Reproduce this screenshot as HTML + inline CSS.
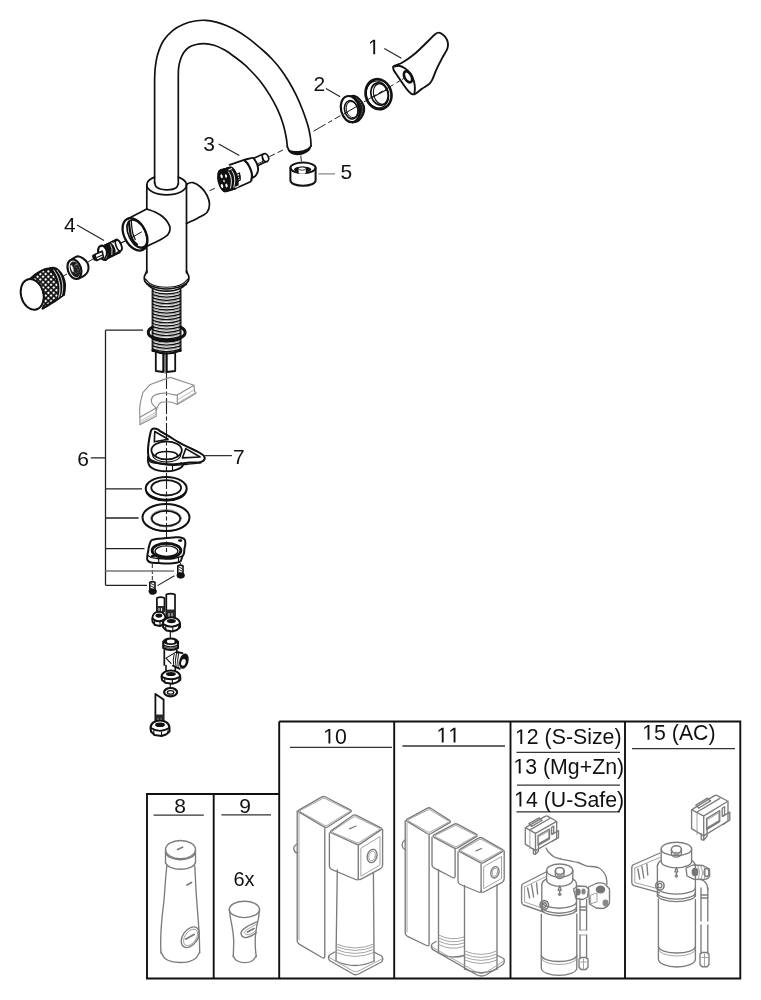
<!DOCTYPE html>
<html><head><meta charset="utf-8"><title>Parts</title>
<style>
html,body{margin:0;padding:0;background:#fff;width:761px;height:1000px;overflow:hidden}
svg{display:block;position:absolute;left:0;top:0;will-change:transform}
text{font-family:"Liberation Sans",sans-serif;fill:#111}
.k{fill:none;stroke:#111;stroke-width:1.7;stroke-linejoin:round;stroke-linecap:round}
.t{fill:none;stroke:#111;stroke-width:1.1;stroke-linejoin:round;stroke-linecap:round}
.l{fill:none;stroke:#222;stroke-width:1.1}
.d{fill:none;stroke:#222;stroke-width:1;stroke-dasharray:6 3}
.g{fill:none;stroke:#7c7c7c;stroke-width:1.35;stroke-linejoin:round;stroke-linecap:round}
.c{fill:none;stroke:#8f8f8f;stroke-width:1.15;stroke-linejoin:round;stroke-linecap:round}
.ct{fill:none;stroke:#aaa;stroke-width:0.8;stroke-linejoin:round;stroke-linecap:round}
.gt{fill:none;stroke:#9a9a9a;stroke-width:0.9;stroke-linejoin:round;stroke-linecap:round}
.b{fill:none;stroke:#111;stroke-width:1.9}
.u{fill:none;stroke:#333;stroke-width:1.3}
.f{fill:#111;stroke:none}
.w{fill:#fff}
</style></head><body>
<svg width="761" height="1000" viewBox="0 0 761 1000">
<g id="table">
<path class="b" d="M279.2,721.5 H740.3 V978.5 H147 V794 H279.2"/>
<path class="b" d="M279.2,721.5 V978.5 M213.7,794 V978.5 M394.2,721.5 V978.5 M510.5,721.5 V978.5 M625,721.5 V978.5"/>
<path class="u" d="M290,747.3 H392 M402.4,746 H505 M516.5,752.3 H620 M517,785.1 H620 M516.5,811.8 H620 M632,748.6 H735 M153.6,815.2 H203.8 M221.4,814.8 H271"/>
<g font-size="21">
<text x="334.95" y="743.6" font-size="21.3">0</text>
<text x="526.85" y="744.1" font-size="21.3">2 (S-Size)</text>
<text x="525.25" y="773.6" font-size="21.3">3 (Mg+Zn)</text>
<text x="525.95" y="806.5" font-size="21.3">4 (U-Safe)</text>
<text x="654.05" y="739.7" font-size="21.3">5 (AC)</text>
<text x="180" y="813" text-anchor="middle">8</text>
<text x="245" y="813" text-anchor="middle">9</text>
<text x="244" y="885.8" text-anchor="middle" font-size="20">6x</text>
</g>
</g>
<path d="M328.46,743.60 L328.46,730.73 L325.15,733.10 L325.15,731.33 L328.61,728.95 L330.34,728.95 L330.34,743.60Z" fill="#111"/><path d="M441.76,742.50 L441.76,729.63 L438.45,732.00 L438.45,730.23 L441.91,727.85 L443.64,727.85 L443.64,742.50Z" fill="#111"/><path d="M453.60,742.50 L453.60,729.63 L450.29,732.00 L450.29,730.23 L453.76,727.85 L455.48,727.85 L455.48,742.50Z" fill="#111"/><path d="M520.36,744.10 L520.36,731.23 L517.05,733.60 L517.05,731.83 L520.51,729.45 L522.24,729.45 L522.24,744.10Z" fill="#111"/><path d="M518.76,773.60 L518.76,760.73 L515.45,763.10 L515.45,761.33 L518.91,758.95 L520.64,758.95 L520.64,773.60Z" fill="#111"/><path d="M519.46,806.50 L519.46,793.63 L516.15,796.00 L516.15,794.23 L519.61,791.85 L521.34,791.85 L521.34,806.50Z" fill="#111"/><path d="M647.56,739.70 L647.56,726.83 L644.25,729.20 L644.25,727.43 L647.71,725.05 L649.44,725.05 L649.44,739.70Z" fill="#111"/><path d="M373.28,54.30 L373.28,41.62 L370.02,43.94 L370.02,42.20 L373.43,39.85 L375.14,39.85 L375.14,54.30Z" fill="#111"/>
<g font-size="21">
<text x="313.5" y="90.8">2</text>
<text x="203.3" y="151.3">3</text>
<text x="64" y="231.5">4</text>
<text x="340.5" y="178.8">5</text>
<text x="77.3" y="465.7">6</text>
<text x="233" y="464">7</text>
</g>
<path class="l" d="M384.3,48.6 L401.4,58.3 M326,88.5 L340.2,96.7 M218.7,144 L239.3,155.4 M77,225 L104,240.4"/>
<path class="l" d="M318.4,173.9 H335" style="stroke:#777"/>
<path class="k" d="M154.6,183 L154.6,80 C154.8,76 154.7,72.1 155.2,68 C155.7,63.7 156.2,59.4 157.5,55 C158.9,50.3 160.8,44.9 163.4,40.8 C165.9,36.9 169.2,33.4 172.6,30.6 C175.9,27.9 179.8,25.8 183.6,24.2 C187.3,22.6 191.2,21.6 195,21 C198.6,20.4 202.2,20.1 205.8,20.3 C209.3,20.5 212.8,21.2 216.3,22.1 C219.8,23 223.3,24.3 226.8,25.8 C230.3,27.3 233.9,29 237.3,31 C240.9,33 244.4,35.4 247.8,37.9 C251.4,40.5 255.3,43.8 258.3,46.3 C260.6,48.2 262.2,49.6 264.3,51.5 C266.7,53.7 269.4,56.2 272,59 C274.9,62.1 278.1,65.8 280.8,69.5 C283.6,73.2 286,76.9 288.5,81 C291.2,85.4 293.8,90.2 296.2,95.1 C298.6,100.1 300.8,105.2 302.8,110.5 C304.8,115.9 307,122 308.3,127 C309.4,131 310,134.6 310.5,138 C310.9,140.9 310.9,143.3 311.1,146"/>
<path class="k" d="M178.3,184 L178.3,75 C178.4,72.7 178.3,70.3 178.6,68 C178.9,65.7 179.3,63.4 180,61 C180.8,58.3 182,55.1 183.6,52.7 C185.1,50.5 186.9,48.6 189,47.2 C191.1,45.8 193.8,45.1 196.3,44.5 C198.7,43.9 201,43.6 203.7,43.6 C206.9,43.6 210.8,44.2 214.2,45.2 C217.8,46.3 221.3,48.1 224.7,50 C228.3,52 231.7,54.7 235.2,57.3 C238.7,59.9 243,63.3 245.7,65.7 C247.5,67.3 248.4,68.4 250,70 C251.9,71.9 254.3,74.4 256.2,76.5 C257.9,78.4 259.2,79.9 261,82.2 C263.6,85.6 267.1,90.6 269.8,95.1 C272.6,99.7 275.3,104.6 277.5,109.4 C279.7,114.1 281.5,118.9 283,123.7 C284.4,128.4 285.6,133.8 286.3,138 C286.9,141.3 287,144 287.4,147"/>
<path class="k" d="M287.4,147 C288.1,148.2 288.3,149.9 289.6,150.7 C291.4,151.9 295.5,152 298.4,151.8 C301.4,151.6 305,150.8 307.2,149.6 C308.9,148.7 309.8,147.2 311.1,146"/>
<path class="f" d="M287.6,148.5 C287.8,148.4 288.5,150.3 289.6,150.9 C291.4,151.9 295.5,152.2 298.4,152 C301.4,151.8 305,151 307.2,149.8 C308.9,148.9 310.8,146.3 311.1,146.5 C311.4,146.7 310.5,149.4 309.4,150.6 C307.9,152.3 304.4,154.1 301.7,154.8 C299.2,155.4 296.3,155.4 294,154.8 C291.9,154.2 289.5,152.8 288.5,151.5 C287.8,150.6 287.4,148.6 287.6,148.5Z"/>
<path class="k" d="M154.6,182.7 C155.2,184.1 155.1,185.8 156.3,186.9 C158.1,188.6 162.9,189.7 166.3,189.8 C169.6,189.9 174.5,189 176.4,187.5 C177.6,186.6 177.7,185.1 178.3,183.9"/>
<path class="k" d="M146.8,185 A19.8,9.8 0 0 0 186.5,185"/>
<path class="k" d="M146.8,185 A19.8,9.8 0 0 1 154.6,177.1 M178.3,177.1 A19.8,9.8 0 0 1 186.5,185"/>
<path class="k" d="M146.8,185 V209 M146.8,246.5 V273 M186.5,185 V273"/>
<path class="k" d="M186.5,184.5 C187.3,184 188,183.3 189,183 C190.1,182.6 191.5,182.3 193,182.6 C195.3,183.1 198.9,185.4 201.2,187.5 C203.6,189.7 205.7,192.7 207.1,195.5 C208.4,198.2 209.5,201.2 209.5,204 C209.5,206.7 208.9,209.8 207.3,212 C205.4,214.6 201.3,216.1 198,218 C194.4,220 190.3,221.7 186.5,223.5"/>
<path class="k" d="M146.8,209 C149.5,210 152.4,210.8 155,212 C157.6,213.3 160.3,214.7 162.5,216.5 C164.6,218.2 166.5,220.4 167.8,222.5 C169,224.4 170.1,226.6 170.1,228.6 C170.1,230.6 169.3,232.8 168,234.5 C166.3,236.7 162.7,238.4 160,240 C157.4,241.5 154.4,242.6 152,243.8 C150.1,244.8 148.5,245.5 146.8,246.5 C145.1,247.4 143.6,248.5 142,249.5"/>
<path class="k" d="M146.8,209 L126.4,219.5"/>
<ellipse class="k" cx="135" cy="234.4" rx="10.8" ry="17.3" transform="rotate(-27 135 234.4)" style="stroke-width:2.3"/>
<ellipse class="k" cx="137" cy="233.6" rx="8.4" ry="14.8" transform="rotate(-27 137 233.6)" style="stroke-width:1.7"/>
<path class="k" d="M128.8,221.5 C129.1,223.7 129.3,225.8 129.6,228 C129.9,230.3 130.2,232.8 130.8,235 C131.4,237 132.1,238.9 133.2,240.5 C134.2,242 135.7,243.2 137,244.5" style="stroke-width:2.2"/>
<path class="k" d="M131.2,220.5 C131.4,222.7 131.5,224.8 131.8,227 C132.1,229.3 132.4,231.8 133,234 C133.6,236 134.5,237.7 135.2,239.5" style="stroke-width:1.3"/>
<path class="k" d="M130.5,239.5 C132,241.5 133.3,244.1 135,245.5 C136.5,246.7 138.2,247.7 140,248 C141.7,248.3 143.7,247.7 145.5,247.5" style="stroke-width:1.3"/>
<path class="t" d="M121,243 L126,240.5 M130,238.5 L141.5,232" style="stroke-width:1"/>
<path class="k" d="M146.8,271 C146.4,271.8 146,272.6 145.6,273.5 C145.2,274.6 144.4,275.7 144.3,277 C144.2,278.4 144.2,280.2 145,281.5 C145.9,283.1 148,284.4 150,285.5 C152.3,286.7 155.3,287.4 158,288 C160.8,288.6 163.7,289 166.5,289 C169.3,289 172.2,288.6 175,288 C177.7,287.4 180.7,286.7 183,285.5 C185,284.4 187,283.1 188,281.5 C188.8,280.2 189,278.4 188.9,277 C188.8,275.7 188,274.6 187.6,273.5 C187.2,272.6 186.9,271.8 186.5,271"/>
<path class="t" d="M145.5,279 C147,280.5 148.1,282.3 150,283.5 C152.2,284.9 155.2,285.9 158,286.5 C160.7,287.1 163.7,287.3 166.5,287.3 C169.3,287.3 172.3,287.1 175,286.5 C177.8,285.9 180.8,284.9 183,283.5 C185,282.3 186.3,280.5 188,279"/>
<path class="k" d="M147,284 C148.7,285.3 150.1,286.9 152,288 C154.1,289.1 156.6,290 159,290.5 C161.4,291 164,291.2 166.5,291.2 C169,291.2 171.6,291 174,290.5 C176.4,290 178.9,289.1 181,288 C183,286.9 184.7,285.3 186.5,284"/>
<path class="k" d="M152.6,290 V351 M180.5,290 V351" style="stroke-width:2"/>
<path class="t" d="M152.6,291.5 Q166.5,296.5 180.5,291.5 M152.6,294.7 Q166.5,299.7 180.5,294.7 M152.6,297.9 Q166.5,302.9 180.5,297.9 M152.6,301.1 Q166.5,306.1 180.5,301.1 M152.6,304.3 Q166.5,309.3 180.5,304.3 M152.6,307.5 Q166.5,312.5 180.5,307.5 M152.6,310.7 Q166.5,315.7 180.5,310.7 M152.6,313.9 Q166.5,318.9 180.5,313.9 M152.6,317.1 Q166.5,322.1 180.5,317.1 M152.6,320.3 Q166.5,325.3 180.5,320.3 M152.6,323.5 Q166.5,328.5 180.5,323.5 M152.6,326.7 Q166.5,331.7 180.5,326.7 M152.6,329.9 Q166.5,334.9 180.5,329.9 M152.6,333.1 Q166.5,338.1 180.5,333.1 M152.6,336.3 Q166.5,341.3 180.5,336.3 M152.6,339.5 Q166.5,344.5 180.5,339.5 M152.6,342.7 Q166.5,347.7 180.5,342.7 M152.6,345.9 Q166.5,350.9 180.5,345.9 M152.6,349.1 Q166.5,354.1 180.5,349.1" style="stroke-width:1.25"/>
<path class="t" d="M152.6,292.8 Q166.5,297.8 180.5,292.8 M152.6,296.0 Q166.5,301.0 180.5,296.0 M152.6,299.2 Q166.5,304.2 180.5,299.2 M152.6,302.4 Q166.5,307.4 180.5,302.4 M152.6,305.6 Q166.5,310.6 180.5,305.6 M152.6,308.8 Q166.5,313.8 180.5,308.8 M152.6,312.0 Q166.5,317.0 180.5,312.0 M152.6,315.2 Q166.5,320.2 180.5,315.2 M152.6,318.4 Q166.5,323.4 180.5,318.4 M152.6,321.6 Q166.5,326.6 180.5,321.6 M152.6,324.8 Q166.5,329.8 180.5,324.8 M152.6,328.0 Q166.5,333.0 180.5,328.0 M152.6,331.2 Q166.5,336.2 180.5,331.2 M152.6,334.4 Q166.5,339.4 180.5,334.4 M152.6,337.6 Q166.5,342.6 180.5,337.6 M152.6,340.8 Q166.5,345.8 180.5,340.8 M152.6,344.0 Q166.5,349.0 180.5,344.0 M152.6,347.2 Q166.5,352.2 180.5,347.2 M152.6,350.4 Q166.5,355.4 180.5,350.4" style="stroke-width:0.7;stroke:#777"/>
<path class="k" d="M152.6,327.2 A18.4,8 0 0 0 148.3,332.6 A18.4,8 0 0 0 185.1,332.6 A18.4,8 0 0 0 180.6,327.2" style="stroke-width:3"/>
<path class="k" d="M152.6,350.5 Q166.5,356.5 180.5,350.5" style="stroke-width:2.2"/>
<path class="k" d="M155.8,352.5 V371 L163.2,372 V352.8 M166.8,353 V372 L175.2,371 V352.5" style="stroke-width:1.8"/>
<path class="k" d="M165,353 V373" style="stroke-width:1.1"/>
<path class="d" d="M313.5,131.2 L340.5,115.6 M364,101.8 L389.6,86.9" style="stroke-dasharray:14 3 4.5 3"/>
<path class="d" d="M269.5,156.6 L285,149"/>
<path class="d" d="M209.5,190.8 L217.5,187"/>
<path class="d" d="M300.8,155.5 L301.6,164"/>
<path class="d" d="M63.2,276 L67,274 M88,262 L93,259 M121.5,243 L127,240"/>
<path class="d" d="M166.5,373 V552" style="stroke-dasharray:16 2.5 4 2.5;stroke-width:1.1"/>
<ellipse class="k" cx="303" cy="167.8" rx="12.6" ry="5.3" style="stroke-width:2"/>
<path class="k" d="M290.4,168 V180.5 A12.6,5.3 0 0 0 315.6,180.5 V168" style="stroke-width:2"/>
<ellipse class="f" cx="302.6" cy="169.6" rx="8.6" ry="3.2"/>
<path class="w" d="M298.6,168.6 V172.2 A3.6,1.6 0 0 0 305.8,172.2 V168.6 Z" style="stroke:none"/>
<ellipse class="w" cx="302.2" cy="168.6" rx="3.6" ry="1.6" style="stroke:#111;stroke-width:0.8"/>
<path class="k" d="M254.4,157.9 L263.1,154 M257.6,165.8 L266.3,161.5" style="stroke-width:1.6"/>
<ellipse class="k" cx="265.5" cy="157.7" rx="3" ry="4.2" transform="rotate(-22 265.5 157.7)" style="stroke-width:1.7"/>
<path class="t" d="M262,154.8 Q264,158 262.8,161.8" style="stroke-width:0.9"/>
<path class="k" d="M258.3,163.5 L262.5,161.5 M259.5,164.5 L263.5,162.5" style="stroke-width:0.9"/>
<path class="k" d="M244.2,159.9 C245.6,159.5 247.1,159.1 248.5,158.8 C250,158.5 251.7,157.5 252.9,157.9 C254,158.3 254.8,159.8 255.5,161 C256.4,162.4 257.2,164.2 257.6,165.8 C258,167.3 258.2,169 258,170.5 C257.7,172.1 256.9,174 256,175.2 C255.2,176.3 253.9,176.8 252.9,177.6" style="stroke-width:1.9"/>
<path class="k" d="M229.6,164.8 L244.2,159.9 M238.7,187 L250.5,181.8" style="stroke-width:1.8"/>
<path class="k" d="M244.2,160.3 C245.3,161.4 246.6,162.3 247.5,163.5 C248.4,164.7 249,166 249.7,167.4 C250.4,169 251.2,170.9 251.6,172.5 C251.9,173.8 252,174.8 252,176 C252,177.4 251.5,179 251.3,180.5" style="stroke-width:2.2"/>
<path class="k" d="M237.6,176.5 L240,175.5 L240.3,180 L238,181" style="stroke-width:1.2"/>
<ellipse class="f" cx="223.2" cy="180.8" rx="5.6" ry="11.9" transform="rotate(-14 223.2 180.8)"/>
<ellipse class="f" cx="224.56" cy="180.4" rx="5.6" ry="11.9" transform="rotate(-14 224.56 180.4)"/>
<ellipse class="f" cx="225.91" cy="180.0" rx="5.6" ry="11.9" transform="rotate(-14 225.91 180.0)"/>
<ellipse class="f" cx="227.27" cy="179.6" rx="5.6" ry="11.9" transform="rotate(-14 227.27 179.6)"/>
<ellipse class="f" cx="228.63" cy="179.2" rx="5.6" ry="11.9" transform="rotate(-14 228.63 179.2)"/>
<ellipse class="f" cx="229.99" cy="178.8" rx="5.6" ry="11.9" transform="rotate(-14 229.99 178.8)"/>
<ellipse class="f" cx="231.34" cy="178.4" rx="5.6" ry="11.9" transform="rotate(-14 231.34 178.4)"/>
<ellipse class="f" cx="232.7" cy="178.0" rx="5.6" ry="11.9" transform="rotate(-14 232.7 178.0)"/>
<path class="w" d="M228.5,170 L232,168.5 M234.8,187.5 L238.5,186" style="stroke:#fff;stroke-width:1.1"/>
<path class="w" d="M228.3,171.5 C229.1,173 230.1,174.3 230.6,176 C231.2,177.8 231.4,180 231.4,182 C231.4,184.1 230.7,186.3 230.4,188.5" style="stroke:#fff;stroke-width:0.9;fill:none"/>
<path class="w" d="M231.8,170.5 C232.5,172 233.5,173.3 234,175 C234.5,176.8 234.8,179 234.8,181 C234.8,183.1 234.1,185.3 233.8,187.5" style="stroke:#fff;stroke-width:0.9;fill:none"/>
<ellipse class="w" cx="221.6" cy="176.2" rx="1.1" ry="2.1" transform="rotate(-14 221.6 176.2)" style="stroke:none"/>
<ellipse class="w" cx="226" cy="176" rx="1" ry="1.8" transform="rotate(-14 226 176)" style="stroke:none"/>
<ellipse class="w" cx="222" cy="186" rx="1.2" ry="2" transform="rotate(-14 222 186)" style="stroke:none"/>
<ellipse class="w" cx="226.5" cy="185.5" rx="1.1" ry="1.9" transform="rotate(-14 226.5 185.5)" style="stroke:none"/>
<ellipse class="w" cx="224" cy="181" rx="0.7" ry="1.2" transform="rotate(-14 224 181)" style="stroke:none"/>
<path class="k" d="M237,174 L239.5,173 L239.8,178 L237.5,179" style="stroke-width:1.3"/>
<path d="M349,96.2 C350.8,96.1 352.7,95.3 354.5,95.8 C356.4,96.3 358.5,97.9 360,99.5 C361.7,101.2 363.3,103.9 364,106 C364.5,107.7 364.6,109.3 364.3,111 C363.9,113.1 362.7,115.7 361.5,117.5 C360.4,119.1 359,120.8 357.4,121.6 C355.8,122.4 353.8,122.3 352,122.6" style="fill:#1c1c1c;stroke:#111;stroke-width:1.6"/>
<path d="M356,97.5 C357.5,99 359.4,100.2 360.5,102 C361.6,103.9 362.5,106.3 362.6,108.5 C362.7,110.8 362,113.5 361,115.5 C360.1,117.4 358.3,118.8 357,120.5" style="fill:none;stroke:#999;stroke-width:0.8;stroke-dasharray:1 1.2"/>
<ellipse class="w" cx="350.2" cy="109.1" rx="9.2" ry="13.3" transform="rotate(-14 350.2 109.1)" style="stroke:#111;stroke-width:2.2"/>
<ellipse class="w" cx="351.3" cy="109.8" rx="6.7" ry="9.3" transform="rotate(-14 351.3 109.8)" style="stroke:#111;stroke-width:1.6"/>
<ellipse class="t" cx="352" cy="109.6" rx="5.6" ry="8.2" transform="rotate(-14 352 109.6)" style="stroke-width:0.9"/>
<path class="t" d="M344,114 L359,105" style="stroke-width:1"/>
<ellipse class="k" cx="378.5" cy="94.2" rx="12.8" ry="15.2" transform="rotate(-15 378.5 94.2)" style="stroke-width:2.6"/>
<ellipse class="k" cx="379.5" cy="94" rx="8.5" ry="11.3" transform="rotate(-15 379.5 94)" style="stroke-width:1.7"/>
<ellipse class="t" cx="381" cy="94" rx="7.4" ry="10.5" transform="rotate(-15 381 94)"/>
<ellipse class="t" cx="377.5" cy="94.5" rx="11" ry="13.6" transform="rotate(-15 377.5 94.5)"/>
<path class="t" d="M373,97 L388,89"/>
<path class="k" d="M393.3,66.6 C394.2,65.1 398.7,64.6 401.6,63 C405.1,61.1 409.2,58.3 412.6,55.6 C415.9,53 418.9,50 421.8,47.3 C424.4,44.8 426.9,42.3 429.2,40 C431.3,38 433.3,35.4 435.1,34.2 C436.3,33.3 437.4,32.6 438.6,32.6 C440,32.6 441.7,33.7 443,34.7 C444.4,35.8 445.8,37.4 446.6,39 C447.4,40.5 447.9,42.5 448,44.1 C448.1,45.6 448,46.8 447.4,48.5 C446.5,51.2 443.8,55 442,58.4 C440.1,62 438.2,65.7 436.5,69.4 C434.8,73 433.3,77.9 431.9,80.4 C431.1,81.8 430.7,82.5 429.6,83.6 C427.9,85.3 424.4,87.1 421.8,88.9 C419.3,90.7 416.4,93.8 414.4,94.3 C413.3,94.6 412.4,94.3 411.5,93.8 C410.3,93.2 409.3,92.1 408,90.6 C405.5,87.8 401.4,81.5 398.8,77.7 C396.8,74.7 394.2,71.7 393.5,69.6 C393.1,68.4 392.8,67.5 393.3,66.6Z" style="stroke-width:1.9"/>
<path class="k" d="M393.5,66.8 C395.3,66.4 397,65.5 398.8,65.7 C400.9,65.9 403.2,67.2 405.2,68.5 C407.3,69.9 409.3,71.9 410.8,74 C412.3,76.2 413.3,79 414,81.4 C414.6,83.6 414.8,85.7 414.9,87.8 C415,89.8 414.6,91.8 414.4,93.8" style="stroke-width:1.9"/>
<ellipse class="k" cx="408" cy="76.8" rx="3.4" ry="6" transform="rotate(-28 408 76.8)" style="stroke-width:2.6"/>
<ellipse class="w" cx="407.9" cy="77" rx="1.4" ry="3" transform="rotate(-28 407.9 77)" style="stroke:none"/>
<path class="d" d="M389.6,86.9 L393.5,84.6 M396.5,82.8 L400.5,80.4 M402,79.5 L405,77.7"/>
<defs><pattern id="knurl" width="3.8" height="3.8" patternUnits="userSpaceOnUse" patternTransform="rotate(45)"><rect width="3.8" height="3.8" fill="#111"/><rect x="0.85" y="0.85" width="2.1" height="2.1" fill="#fff"/></pattern></defs>
<path d="M30,279.2 C29.8,277.9 34.5,275.1 37,273.5 C39.5,271.9 42.6,270.3 45,269.5 C46.8,268.9 48.5,267.9 50,268.5 C52,269.3 53.6,273.2 55,276 C56.5,279 58.1,282.6 58.5,286 C58.9,289.3 58.5,293.3 57.5,296 C56.7,298.1 55.7,299.3 54,301 C51.4,303.5 44.1,309.4 42.6,308.5 C41.4,307.7 44,302.3 43.8,299 C43.6,295.2 42.6,290.2 41,287 C39.7,284.5 38,282.3 36,281 C34.2,279.8 30.2,280.2 30,279.2Z" style="fill:url(#knurl);stroke:none"/>
<path class="k" d="M30,279.2 C32.3,277.3 34.5,275.1 37,273.5 C39.5,271.8 42.3,270.2 45,269.3 C47.3,268.5 49.7,268.6 52,268.3" style="stroke-width:2.2"/>
<path class="k" d="M42.6,308.5 C45.1,307 47.6,305.5 50,304 C52.4,302.5 54.7,301.1 57,299.5 C59.3,297.9 61.6,296.2 63.9,294.5" style="stroke-width:2.2"/>
<path class="f" d="M50,268.3 C50.4,267.7 53.1,267.6 54.5,268 C56.1,268.4 57.7,269.7 59,271 C60.5,272.5 61.8,274.4 62.8,276.5 C63.8,278.7 64.6,281.6 64.9,284 C65.2,286.2 64.8,288.6 64.6,290.5 C64.4,292 64.6,293.5 63.9,294.5 C63.1,295.6 61.3,296 60,296.8 C58.8,297.5 57,299.3 56.5,299 C55.9,298.6 57.8,295.2 58,293 C58.2,290.5 58.1,287.6 57.5,285 C56.9,282.3 55.7,279.5 54.5,277 C53.3,274.5 51.2,271.6 50.5,270 C50.2,269.3 49.7,268.7 50,268.3Z"/>
<path class="k" d="M50,268.3 C51.5,268.2 53.1,267.6 54.5,268 C56.1,268.4 57.7,269.7 59,271 C60.5,272.5 61.8,274.4 62.8,276.5 C63.8,278.7 64.6,281.6 64.9,284 C65.2,286.2 64.8,288.6 64.6,290.5 C64.4,292 64.1,293.2 63.9,294.5" style="stroke-width:2.2"/>
<path d="M53.5,269.6 C54.7,271.6 56,273.3 57,275.5 C58.1,278 59.1,281.2 59.6,284 C60,286.7 60,289.6 59.8,292 C59.6,294 59,295.7 58.6,297.6" style="fill:none;stroke:#fff;stroke-width:0.9"/>
<path d="M56.8,270 C58.1,272 59.6,273.8 60.6,276 C61.6,278.4 62.3,281.4 62.6,284 C62.9,286.5 62.7,289.3 62.4,291.5 C62.2,293.2 61.7,294.5 61.3,296" style="fill:none;stroke:#fff;stroke-width:0.8"/>
<ellipse class="k" cx="32.2" cy="294.4" rx="11.1" ry="15.5" transform="rotate(-15 32.2 294.4)" style="stroke-width:2.2"/>
<ellipse class="w" cx="32.2" cy="294.4" rx="10" ry="14.4" transform="rotate(-15 32.2 294.4)" style="stroke:none"/>
<path class="k" d="M71.7,259.5 C72.8,258.8 73.9,257.8 75,257.3 C76,256.8 76.9,256.3 78,256.3 C79.5,256.4 81.5,257.4 83,258.4 C84.6,259.5 86.3,261 87.2,262.6 C88.1,264.1 88.5,266 88.5,267.6 C88.5,269.1 88.2,270.5 87.6,271.8 C87,273.1 85.9,274.2 84.7,275.2 C83.2,276.5 80.8,277.5 78.8,278.6" style="stroke-width:2"/>
<ellipse class="k" cx="74.4" cy="269.2" rx="6.6" ry="10" transform="rotate(-18 74.4 269.2)" style="stroke-width:2.2"/>
<ellipse cx="75" cy="269.4" rx="4.9" ry="8.2" transform="rotate(-18 75 269.4)" style="fill:#1e1e1e"/>
<ellipse class="w" cx="72.2" cy="268.6" rx="1.1" ry="3.8" transform="rotate(-18 72.2 268.6)" style="stroke:none"/>
<ellipse cx="75.6" cy="269.8" rx="2.2" ry="3.8" transform="rotate(-18 75.6 269.8)" style="fill:none;stroke:#777;stroke-width:0.9;stroke-dasharray:1.5 1.2"/>
<ellipse cx="76.4" cy="264.5" rx="1.4" ry="0.8" transform="rotate(-18 76.4 264.5)" style="fill:#888"/>
<path class="k" d="M104,246 L116.8,239.4 M107,258.6 L119.8,252.4" style="stroke-width:1.8"/>
<ellipse cx="113.2" cy="247.8" rx="3.5" ry="6.7" transform="rotate(-22 113.2 247.8)" style="fill:#111"/>
<ellipse cx="114.28" cy="247.3" rx="3.5" ry="6.7" transform="rotate(-22 114.28 247.3)" style="fill:#111"/>
<ellipse cx="115.36" cy="246.8" rx="3.5" ry="6.7" transform="rotate(-22 115.36 246.8)" style="fill:#111"/>
<ellipse cx="116.44" cy="246.3" rx="3.5" ry="6.7" transform="rotate(-22 116.44 246.3)" style="fill:#111"/>
<ellipse cx="117.52" cy="245.8" rx="3.5" ry="6.7" transform="rotate(-22 117.52 245.8)" style="fill:#111"/>
<ellipse cx="118.6" cy="245.3" rx="3.5" ry="6.7" transform="rotate(-22 118.6 245.3)" style="fill:#111"/>
<ellipse class="w" cx="113.6" cy="247.7" rx="2.6" ry="5.6" transform="rotate(-22 113.6 247.7)" style="stroke:none"/>
<path class="w" d="M113.6,242.2 L118,240.2 L119.5,250.5 L115,252.8 Z" style="stroke:none"/>
<ellipse class="w" cx="118.6" cy="245.5" rx="2.5" ry="5.6" transform="rotate(-22 118.6 245.5)" style="stroke:#111;stroke-width:1.6"/>
<ellipse cx="107.2" cy="251.0" rx="3.9" ry="7.1" transform="rotate(-22 107.2 251.0)" style="fill:#111"/>
<ellipse cx="108.0" cy="250.64" rx="3.9" ry="7.1" transform="rotate(-22 108.0 250.64)" style="fill:#111"/>
<ellipse cx="108.8" cy="250.28" rx="3.9" ry="7.1" transform="rotate(-22 108.8 250.28)" style="fill:#111"/>
<ellipse cx="109.6" cy="249.92" rx="3.9" ry="7.1" transform="rotate(-22 109.6 249.92)" style="fill:#111"/>
<ellipse cx="110.4" cy="249.56" rx="3.9" ry="7.1" transform="rotate(-22 110.4 249.56)" style="fill:#111"/>
<ellipse cx="111.2" cy="249.2" rx="3.9" ry="7.1" transform="rotate(-22 111.2 249.2)" style="fill:#111"/>
<path d="M110.3,244.3 Q113,248 111.8,255" style="fill:none;stroke:#fff;stroke-width:0.8"/>
<ellipse class="w" cx="103.2" cy="252.8" rx="4.6" ry="7.4" transform="rotate(-22 103.2 252.8)" style="stroke:#111;stroke-width:2.2"/>
<path class="k" d="M104.5,246.5 C105.1,247.7 106,248.7 106.3,250 C106.7,251.5 106.7,253.5 106.4,255 C106.1,256.3 105.3,257.3 104.8,258.5" style="stroke-width:1.6"/>
<path class="w" d="M94.8,254.5 L102.2,251.2 L103.4,257.2 L96.8,260.6 Z" style="stroke:#111;stroke-width:1.6;stroke-linejoin:round"/>
<path class="k" d="M97.5,257.2 L102.4,255" style="stroke-width:1.1"/>
<ellipse class="f" cx="94.4" cy="257.6" rx="1.9" ry="3.4" transform="rotate(-22 94.4 257.6)"/>
<path class="c" d="M139.9,417.3 L139.6,409.4 L140.5,402 L142.8,392.7 L149.7,384.8 L165.5,378.9 L170.4,377.4 L194,385.3"/>
<path class="c" d="M177.3,395.1 L194,385.3 L194.5,391.2 L196,393.2 L177.3,404.5 Z"/>
<path class="ct" d="M177.8,399.5 L194.3,389.8 M178,402.8 L195.5,392.5"/>
<path class="c" d="M156.1,407.9 C155.1,406.9 153.8,406.1 153,405 C152.2,404 151.5,402.8 151.4,401.5 C151.3,400 151.6,397.9 152.7,396.6 C154,395.1 157.2,394.2 159.6,393.6 C161.9,393.1 164.2,393 166.5,393.2 C168.8,393.4 171.3,394.3 173.3,394.6 C174.8,394.8 176,394.9 177.3,395.1"/>
<path class="c" d="M156.1,410.5 C157.3,408.2 157.8,404.9 159.6,403.5 C161.3,402.1 164.3,401.9 166.5,401.8 C168.5,401.7 170.6,402 172.4,402.5 C174.1,402.9 175.7,403.8 177.3,404.5"/>
<path class="c" d="M139.9,417.3 L156.1,407.9 L156.1,416.3 L139.9,424.7 Z"/>
<path class="ct" d="M140.5,421 L155.6,412.3 M140.5,423 L155.6,414.5"/>
<path class="k" d="M151.8,429.4 C152.9,428.5 155.4,428.6 156.8,428.9 C158,429.2 158.4,430 159.7,430.8 C162,432.2 166.2,434.7 169.5,436.7 C172.8,438.7 176.1,440.9 179.4,442.7 C182.6,444.5 185.9,446 189.2,447.6 C192.5,449.2 196.4,450.9 199.1,452.5 C201.1,453.7 203.2,454.6 204,456 C204.6,457 204.9,458.4 204.5,459.4 C204.1,460.5 202.7,461.3 201.1,461.9 C198.6,462.8 194.1,462.3 190,462.6 C184.8,463 178,464.3 172.5,464.3 C167.6,464.3 162.6,464.1 158.5,463 C155.1,462.1 151.2,461.1 149.5,459 C148.1,457.2 148.2,454.5 148,452 C147.8,449.2 148.2,446 148.6,443 C149,440 149.6,436.5 150.2,434 C150.7,432.2 150.7,430.3 151.8,429.4Z" style="stroke-width:2"/>
<path class="k" d="M148.2,456.5 C148.8,458.2 148.7,460.3 150,461.5 C151.8,463.1 156.2,463.2 159.7,463.8 C163.7,464.5 168.2,465.2 172.5,465.3 C176.9,465.4 181.4,464.9 186,464.5 C190.9,464.1 196.1,463.4 201.1,462.8" style="stroke-width:1.3"/>
<path class="k" d="M148.2,456.5 C148.1,458 147.7,459.5 147.9,461 C148.2,462.7 148.6,464.8 149.9,466.3 C151.5,468.1 154.9,469.5 157.7,470.3 C160.5,471.1 163.7,471.3 166.6,471.3 C169.3,471.3 172,471 174.5,470.3 C176.9,469.6 179.9,468.5 181.4,467.3 C182.4,466.5 182.7,465.4 183.4,464.5" style="stroke-width:1.9"/>
<path class="t" d="M172.5,465.3 L172.5,470.5 M176,464.8 L181.5,462.8"/>
<ellipse class="k" cx="166.6" cy="450.3" rx="15.2" ry="9" style="stroke-width:1.8"/>
<path class="k" d="M155.8,455.4 A10.8,4 0 0 1 177.4,455.4" style="stroke-width:1.5"/>
<path class="t" d="M152.5,454.5 A14,7.5 0 0 0 180.8,454.5"/>
<path class="k" d="M154.8,431.5 L168.1,439.2 L154.3,441.8 Z" style="stroke-width:1.6"/>
<path class="k" d="M185.8,448.6 L200.1,457 L182.4,457.9 Z" style="stroke-width:1.6"/>
<path class="k" d="M205,455.6 H231.5" style="stroke-width:1.2;stroke:#333"/>
<ellipse class="k" cx="166.2" cy="488.6" rx="20.5" ry="11.6" style="stroke-width:2"/>
<ellipse class="k" cx="166.2" cy="487.8" rx="14.9" ry="7.7" style="stroke-width:1.8"/>
<path class="k" d="M145.8,489 A20.5,11.6 0 0 0 186.6,489 M146.2,492 A20.3,10.8 0 0 0 186.2,492" style="stroke-width:1.3"/>
<ellipse class="k" cx="166" cy="517.5" rx="23.5" ry="13.6" style="stroke-width:2"/>
<ellipse class="k" cx="166" cy="518.5" rx="14.2" ry="7.6" style="stroke-width:1.8"/>
<path class="k" d="M142.6,519 A23.5,13.4 0 0 0 189.4,519" style="stroke-width:1.3"/>
<ellipse class="t" cx="166" cy="518.2" rx="15.6" ry="8.8" style="stroke-width:0.6;stroke:#666"/>
<path class="k" d="M151.2,540.6 C152.2,539.6 153.7,539.6 155,539.3 C156.2,539 157.2,538.9 158.7,538.7 C160.8,538.4 164,538.1 166.5,537.9 C168.8,537.7 170.9,537.7 173,537.6 C175.1,537.5 177.2,536.9 179.2,537.2 C181.1,537.5 183.7,538.2 184.7,539.5 C185.6,540.7 185.3,542.6 185.3,544.2 C185.3,545.8 184.6,547.4 184.4,549 C184.2,550.6 184.3,552.4 183.9,553.7 C183.5,554.8 182.8,555.4 182.3,556.5 C181.6,557.9 181.6,560.4 180.3,561.5 C178.8,562.8 175.4,562.9 173,563.2 C170.8,563.5 168.8,563.6 166.5,563.6 C164,563.6 161.4,563.3 158.7,563.1 C155.9,562.9 152,563.1 150,562.3 C148.8,561.8 147.9,561 147.4,560 C146.8,558.8 147.3,556.7 147.4,555.2 C147.5,553.7 148,552.4 148.2,551 C148.4,549.7 148.4,548.7 148.8,547.3 C149.3,545.4 149.9,541.9 151.2,540.6Z" style="stroke-width:2"/>
<path class="k" d="M147.6,555.2 C148.7,556 149.6,556.9 151,557.5 C153,558.3 156.1,558.4 158.7,558.6 C161.3,558.9 163.9,559 166.5,559 C169,559 171.5,558.9 174,558.5 C176.7,558 179.5,557 182.3,556.2" style="stroke-width:1.3"/>
<path class="t" d="M158.7,558.6 V563 M178.5,557 V561.8"/>
<ellipse class="k" cx="166.5" cy="550.6" rx="14.4" ry="7.2" style="stroke-width:2.8"/>
<ellipse class="k" cx="166.5" cy="551.2" rx="11.4" ry="5.3" style="stroke-width:1.3"/>
<ellipse class="f" cx="152.8" cy="556.3" rx="2.2" ry="1.3"/>
<ellipse class="f" cx="180.2" cy="540.6" rx="2.2" ry="1.3"/>
<path class="k" d="M177.8,574 V566 Q180.5,564.2 183,566 V574" style="stroke-width:1.6"/>
<path class="t" d="M179,567 L181.8,568.5 M179,569.5 L181.8,571 M179,572 L181.8,573.5" style="stroke-width:0.9"/>
<path class="f" d="M176.6,575 C176.7,574.2 177.3,573.2 178,572.8 C178.6,572.4 179.6,572.5 180.5,572.5 C181.4,572.5 182.6,572.4 183.3,572.8 C184,573.2 184.7,574.2 184.8,575 C184.9,575.8 184.6,576.9 184,577.5 C183.3,578.2 181.6,578.7 180.5,578.7 C179.5,578.7 178.1,578.2 177.5,577.5 C176.9,576.9 176.5,575.8 176.6,575Z"/>
<path class="k" d="M149.8,589.5 V582.5 Q152.5,580.7 155,582.5 V589.5" style="stroke-width:1.6"/>
<path class="t" d="M151,583.5 L153.8,585 M151,586 L153.8,587.5 M151,588.5 L153.8,590" style="stroke-width:0.9"/>
<path class="f" d="M148.6,591 C148.7,590.2 149.3,589.2 150,588.8 C150.6,588.4 151.6,588.5 152.5,588.5 C153.4,588.5 154.6,588.4 155.3,588.8 C156,589.2 156.7,590.2 156.8,591 C156.9,591.8 156.6,592.9 156,593.5 C155.3,594.2 153.6,594.8 152.5,594.8 C151.5,594.8 150.1,594.2 149.5,593.5 C148.9,592.9 148.5,591.8 148.6,591Z"/>
<path class="d" d="M152.3,564 V581" style="stroke-dasharray:4 2"/>
<path class="d" d="M180.5,560 V564.5" style="stroke-dasharray:2 1"/>
<path class="l" d="M105.5,330.2 H143 M105.5,330.2 V585.3 M90.8,457.8 H105.5 M105.5,488.8 H142 M105.5,518 H138.6 M105.5,548.6 H144.5 M105.5,585.3 H147" style="stroke-width:1.3"/>
<path class="l" d="M105.5,571 H174" style="stroke:#777;stroke-width:1.6"/>
<path class="l" d="M157.5,585.6 L174.4,575.7"/>
<path class="k" d="M156.9,611 V598 Q160.7,596.4 164.5,598 V611" style="stroke-width:1.7"/>
<path d="M157.2,606 H164.2 V614.5 H157.2 Z" style="fill:#2a2a2a"/>
<path class="w" d="M159,608 V613 M161.5,608 V613" style="stroke:#fff;stroke-width:0.9"/>
<path class="k" d="M152.3,618.7 C152.3,614.1 155.6,611.8 158.9,611.8 C162.2,611.8 165.5,614.1 165.5,618.7 L165.5,621.9 L163.1,624.6 L160.0,626.0 L155.1,625.1 L152.6,621.9 Z" style="fill:#fff;stroke-width:2"/>
<path class="k" d="M152.7,618.7 Q158.9,623.9 165.1,618.7" style="stroke-width:1.9"/>
<path class="t" d="M154.6,621.0 V624.9 M160.0,622.1 V625.8 M164.4,620.6 V623.3"/>
<ellipse class="f" cx="158.9" cy="615.6" rx="3.4" ry="2.1"/>
<path class="k" d="M166.3,618 V594.5 Q170.6,592.6 175,594.5 V618" style="stroke-width:1.7"/>
<path d="M166.5,609.5 H174.8 V621 H166.5 Z" style="fill:#2a2a2a"/>
<path class="w" d="M169,613 V620 M172,613 V620" style="stroke:#fff;stroke-width:0.9"/>
<path class="k" d="M162.8,624.1 C162.8,619.6 167.1,617.3 171.4,617.3 C175.7,617.3 180.0,619.6 180.0,624.1 L180.0,627.3 L176.8,630.0 L172.8,631.4 L166.4,630.5 L163.2,627.3 Z" style="fill:#fff;stroke-width:2"/>
<path class="k" d="M163.2,624.1 Q171.4,629.3 179.6,624.1" style="stroke-width:1.9"/>
<path class="t" d="M165.8,626.4 V630.3 M172.8,627.5 V631.2 M178.6,626.0 V628.8"/>
<ellipse class="f" cx="171.4" cy="621.1" rx="4.5" ry="2.1"/>
<path class="k" d="M170.3,632 V637.5" style="stroke-width:1.2"/>
<path class="k" d="M163.2,641.5 V648 Q170.6,652 178,648 V641.5" style="stroke-width:2"/>
<ellipse class="f" cx="170.6" cy="641.3" rx="7.6" ry="3.8"/>
<ellipse class="w" cx="170.8" cy="641.4" rx="3.9" ry="1.9" style="stroke:none"/>
<path class="k" d="M163.5,645 Q170.6,648.7 177.8,645" style="stroke-width:1.3"/>
<path class="k" d="M163.5,646.5 Q170.6,650.2 177.8,646.5" style="stroke-width:0.9"/>
<path class="k" d="M164.3,650 V665 M176.8,650 V653" style="stroke-width:1.7"/>
<path class="t" d="M166,658.1 L176.3,651.9 M166,658.1 L171,663.4"/>
<path class="k" d="M176.8,652 L182.5,653.2 M172.9,665.7 L179.8,668.9" style="stroke-width:1.8"/>
<path class="k" d="M174.2,654 Q172.4,660 173.8,666 M176.4,653.6 Q174.6,660 176,666.8 M178.6,653.2 Q176.8,660 178.2,667.6" style="stroke-width:1"/>
<ellipse class="f" cx="183.9" cy="661.1" rx="4.6" ry="7.8" transform="rotate(14 183.9 661.1)"/>
<ellipse class="w" cx="183.4" cy="662.4" rx="2.2" ry="3.5" transform="rotate(14 183.4 662.4)" style="stroke:none"/>
<path class="k" d="M166,665.5 V672 M175.3,667 V672" style="stroke-width:1.6"/>
<path class="k" d="M161.5,676.9 C161.5,672.6 166.2,670.5 170.9,670.5 C175.6,670.5 180.3,672.6 180.3,676.9 L180.3,679.9 L176.8,682.4 L172.4,683.7 L165.4,682.8 L162.0,679.9 Z" style="fill:#fff;stroke-width:2"/>
<path class="k" d="M161.9,676.9 Q170.9,681.7 179.9,676.9" style="stroke-width:1.9"/>
<path class="t" d="M164.8,679.0 V682.7 M172.4,680.0 V683.5 M178.8,678.7 V681.2"/>
<ellipse class="f" cx="170.9" cy="674.1" rx="4.9" ry="2.0"/>
<path class="k" d="M170.3,684 V688" style="stroke-width:1.1"/>
<ellipse class="k" cx="170.6" cy="692.2" rx="6.5" ry="4.2" style="stroke-width:2.2"/>
<ellipse class="k" cx="170.6" cy="692.4" rx="3.2" ry="1.8" style="stroke-width:1.3"/>
<path class="k" d="M155.4,722 V694 L163.6,699.6 V722" style="stroke-width:1.8"/>
<path d="M155.8,714.5 H163.8 V723 H155.8 Z" style="fill:#2a2a2a"/>
<path class="w" d="M158,718.5 V723 M161,718.5 V723" style="stroke:#ccc;stroke-width:0.9"/>
<path class="k" d="M150.5,728.0 C150.5,723.0 155.2,720.5 160.0,720.5 C164.8,720.5 169.5,723.0 169.5,728.0 L169.5,731.5 L166.0,734.5 L161.5,736.0 L154.5,735.0 L151.0,731.5 Z" style="fill:#fff;stroke-width:2"/>
<path class="k" d="M150.9,728.0 Q160.0,733.7 169.1,728.0" style="stroke-width:1.9"/>
<path class="t" d="M153.8,730.5 V734.8 M161.5,731.7 V735.8 M168.0,730.1 V733.1"/>
<ellipse class="f" cx="160" cy="724.7" rx="4.9" ry="2.3"/>
<ellipse class="g" cx="180.5" cy="849.6" rx="15" ry="9.1"/>
<path class="g" d="M165.5,850 V863 M195.5,850 V863"/>
<path class="g" d="M165.6,852.5 A15,8.2 0 0 0 195.4,852.5"/>
<path class="g" d="M165.6,862.5 A15,7.6 0 0 0 195.4,862.5"/>
<path class="g" d="M166.8,866 C166.4,870.7 165.9,874.9 165.5,880 C165,886.1 164.6,893.8 164,900 C163.5,905.4 162.8,910.2 162.3,915 C161.9,919.5 161.5,923.8 161.2,928 C160.9,932.1 160.8,935.9 160.7,940 C160.6,944.2 160.8,948.7 160.9,953"/>
<path class="g" d="M194.8,866 C195,870.7 195.3,875.4 195.5,880 C195.7,884.4 195.9,888.5 196.2,893 C196.5,897.8 196.9,903.2 197.3,908 C197.6,912.5 198,916.4 198.3,921 C198.7,926.1 199.1,931.7 199.3,937 C199.5,942.3 199.6,947.7 199.7,953"/>
<path class="g" d="M160.9,952 C162.3,954.2 163.2,956.9 165,958.5 C166.9,960.1 169.5,961 172,961.7 C174.5,962.4 177.4,962.5 180.1,962.5 C182.7,962.5 185.5,962.5 188,961.8 C190.6,961.1 193.5,960.2 195.5,958.5 C197.4,956.9 198.3,954.2 199.7,952"/>
<ellipse class="g" cx="190.2" cy="937.2" rx="7.4" ry="11.5" transform="rotate(35 190.2 937.2)"/>
<ellipse class="gt" cx="190.6" cy="937.4" rx="5.6" ry="9.3" transform="rotate(35 190.6 937.4)"/>
<path class="g" d="M186,939 L194,934.5" style="stroke-width:2"/>
<path class="g" d="M177.5,849.5 L182.5,847.3" style="stroke-width:1.8"/>
<path class="g" d="M187,885 L191.5,882.5" style="stroke-width:1.8"/>
<ellipse class="g" cx="244.4" cy="909.4" rx="15.1" ry="8.2"/>
<path class="g" d="M229.3,909.4 C229.7,912.3 230,915.2 230.5,918 C230.9,920.7 231.5,923.3 232,926 C232.4,928.7 232.9,931.3 233.2,934 C233.5,936.8 233.7,939.7 233.7,942.4 C233.7,945 233.6,947.5 233.5,950 C233.4,952.3 233.3,954.5 233.2,956.7"/>
<path class="g" d="M259.6,909.4 C259.2,912.3 259,915.2 258.5,918 C258,920.7 257.3,923.3 256.8,926 C256.3,928.7 255.9,931.3 255.6,934 C255.3,936.8 255.2,939.7 255.2,942.4 C255.2,945 255.3,947.6 255.5,950 C255.7,952.3 256,954.5 256.3,956.7"/>
<path class="g" d="M233.2,956 C234.3,957.5 234.9,959.4 236.5,960.5 C238.4,961.8 241.6,962.5 244.2,962.6 C246.8,962.7 249.9,962.2 252,961 C253.9,959.9 254.9,957.7 256.3,956"/>
<path class="g" d="M257.3,921.5 C254.5,922.8 251.5,924 249,925.5 C246.6,926.9 243.8,928.2 242.5,930 C241.5,931.3 240.8,933.2 241.2,934.5 C241.5,935.7 243.1,937.1 244.5,937.5 C246.2,937.9 249,936.8 251,936 C253,935.2 254.7,933.7 256.5,932.5"/>
<path class="gt" d="M257,924 C254.8,925.2 252.5,926.2 250.5,927.5 C248.5,928.7 245.7,930.1 245,931.5 C244.6,932.3 244.5,933.5 245,934 C245.6,934.7 247.9,934.8 249.5,934.5 C251.5,934.1 253.8,932 256,930.8"/>
<path class="g" d="M247.5,932 L254,928.5" style="stroke-width:1.8"/>
<path class="g" d="M299.3,812.2 Q297.2,811.0 299.3,809.8 L321.4,797.1 Q323.5,795.9 325.6,797.0 L350.3,809.9 Q352.4,811.0 350.4,812.3 L328.0,826.8 Q326.0,828.1 323.9,826.9Z"/>
<path class="gt" d="M300.7,811.9 Q299.2,811.0 300.7,810.2 L322.2,798.7 Q323.7,797.9 325.2,798.6 L348.9,810.3 Q350.4,811.0 349.0,811.9 L327.3,825.2 Q325.9,826.1 324.4,825.3Z"/>
<path class="g" transform="translate(0,0)" d="M297.2,811 V941 Q297.2,943 299.5,944.3 L322,957.5 Q324.8,959 324.8,956 V828.5"/>
<path class="gt" transform="translate(0,0)" d="M299,813 V940"/>
<path class="g" transform="translate(0,0)" d="M297,844 Q293.5,846 293.8,849 Q294,852 297,853"/>
<path class="g" d="M331.6,833.0 Q329.4,832.0 331.4,830.6 L352.4,815.7 Q354.4,814.3 356.5,815.4 L380.5,827.7 Q382.6,828.8 380.6,830.1 L360.3,843.9 Q358.3,845.2 356.1,844.2Z"/>
<path class="gt" d="M332.9,832.5 Q331.4,831.9 332.8,830.9 L353.2,817.2 Q354.6,816.3 356.1,817.0 L379.1,828.2 Q380.6,828.9 379.2,829.8 L359.4,842.3 Q358.0,843.2 356.5,842.6Z"/>
<path class="g" transform="translate(0,0)" d="M329.4,833 V866 Q329.4,868.3 331.5,869.3 L355.6,879.5 Q358.3,880.7 358.3,878 V845.5"/>
<path class="g" transform="translate(0,0)" d="M358.3,878 Q358.5,880.5 361,879.2 L380.6,868.6 Q382.6,867.3 382.6,865 V829.5"/>
<path class="gt" transform="translate(0,0)" d="M361.2,848 L380,836.5 V865 L361.2,876 Z"/>
<ellipse class="g" cx="372.1" cy="856" rx="4.8" ry="6.8" transform="rotate(15 372.1 856)"/><ellipse class="gt" cx="372.1" cy="856" rx="3.2" ry="5" transform="rotate(15 372.1 856)"/>
<path class="g" transform="translate(0,0)" d="M349.5,828.8 L356,826"/>
<path class="g" transform="translate(0,0)" d="M337.3,869.8 L336,961 M373.4,872.5 L374.1,961"/>
<path class="g" transform="translate(0,0)" d="M336,961 Q355,970 374.1,961"/>
<path class="gt" transform="translate(0,0)" d="M336.2,944 Q355,952 374,944 M336.2,946.5 Q355,954.5 374,946.5 M336.2,949.5 Q355,957.5 374,949.5 M336.2,952.5 Q355,960.5 374,952.5"/>
<path class="g" transform="translate(0,0)" d="M334.7,952 L329.5,955 Q327.5,957.5 329.5,960.5 L353,974 Q355.7,975.5 358.5,974 L381.5,962 Q384,959 381.5,956 L374,952"/>
<path class="gt" transform="translate(0,0)" d="M329.3,957.5 L353,971 Q355.7,972.5 358.5,971 L383,958.5"/>
<path class="g" d="M407.3,821.4 Q405.2,820.2 407.3,819.1 L427.0,808.3 Q429.1,807.2 431.1,808.5 L449.5,820.4 Q451.5,821.7 449.4,822.9 L431.2,833.5 Q429.1,834.7 427.0,833.5Z"/>
<path class="gt" d="M408.7,821.1 Q407.2,820.3 408.7,819.5 L427.5,810.0 Q429.0,809.2 430.5,810.1 L448.1,820.8 Q449.5,821.6 448.0,822.4 L430.5,831.9 Q429.0,832.7 427.6,831.9Z"/>
<path class="g" d="M405.2,821 V933 Q405.2,935 407.5,936.3 L426.5,945.5 Q429.1,946.8 429.1,944 V835"/>
<path class="gt" d="M407,823 V932"/>
<path class="g" d="M405,840 Q402,842 402.2,845.5 Q402.5,848.5 405,849.5"/>
<path class="g" d="M434.1,837.3 Q432.0,836.1 434.1,834.9 L453.7,824.3 Q455.8,823.1 457.9,824.3 L476.1,834.2 Q478.2,835.4 476.2,836.7 L457.8,847.8 Q455.8,849.1 453.7,847.9Z"/>
<path class="gt" d="M435.5,836.8 Q434.0,836.1 435.5,835.3 L454.2,825.9 Q455.7,825.1 457.2,825.9 L474.7,834.7 Q476.2,835.4 474.7,836.3 L457.2,846.3 Q455.7,847.1 454.2,846.3Z"/>
<path class="g" d="M432,837.5 V865 Q432,867 434.3,868.2 L452.5,877.5 Q455.1,878.7 455.1,876 V849"/>
<path class="g" d="M460.1,851.8 Q458.0,850.6 460.0,849.3 L478.4,838.2 Q480.4,836.9 482.5,838.1 L502.1,849.4 Q504.2,850.6 502.1,851.8 L483.9,862.4 Q481.8,863.6 479.7,862.4Z"/>
<path class="gt" d="M461.5,851.3 Q460.0,850.6 461.5,849.8 L479.0,839.7 Q480.5,838.9 482.0,839.7 L500.7,849.8 Q502.2,850.6 500.7,851.4 L483.2,860.8 Q481.7,861.6 480.2,860.8Z"/>
<path class="g" d="M458,852 V881 Q458,883.3 460.3,884.5 L478.5,892 Q481.1,893.2 481.1,890.5 V864"/>
<path class="g" d="M481.1,890.5 Q481.3,893.3 483.8,892 L502.2,882.3 Q504.2,881 504.2,878.5 V851"/>
<path class="gt" d="M484,866.5 L501.5,856.5 V878.5 L484,888.5 Z"/>
<ellipse class="g" cx="494.9" cy="872.3" rx="4" ry="5.8" transform="rotate(15 494.9 872.3)"/><ellipse class="gt" cx="494.9" cy="872.3" rx="2.6" ry="4.2" transform="rotate(15 494.9 872.3)"/>
<path class="g" d="M476,850.8 L481.5,848.5"/>
<path class="g" d="M438.5,869.5 V953"/>
<path class="gt" d="M438.6,935 Q451,941.5 464,937 M438.6,938 Q451,944.5 464,940 M438.6,941 Q451,947.5 464,943 M438.6,944.5 Q451,951 464,946.5"/>
<path class="g" d="M438.6,953 Q451,959.5 464,955.5"/>
<path class="g" d="M464.5,885.3 V969 M497,885 V969"/>
<path class="gt" d="M464.6,951 Q481,958 497,951 M464.6,954 Q481,961 497,954 M464.6,957 Q481,964 497,957 M464.6,960 Q481,967 497,960"/>
<path class="g" d="M464.6,969 Q481,976.5 497,969"/>
<path class="g" d="M436,941.5 L432,944 Q430.5,946.5 432.5,949.4 L477,975 Q481.5,977 486,975 L503,964.5 Q505.5,961 503.5,958.5 L497.5,955.5"/>
<path class="gt" d="M432,947 L477,972.5 Q481.5,974.5 486,972.5 L504.5,960.5"/>
<ellipse class="g" cx="559.7" cy="870.5" rx="13.1" ry="6.5"/>
<ellipse class="g" cx="559.7" cy="871.0" rx="4.323" ry="3.575" style="stroke-width:1.6"/>
<path class="g" d="M555.4,871.0 v4 a4.3,3.6 0 0 0 8.6,0 v-4"/>
<ellipse cx="559.7" cy="875.0" rx="2.882" ry="1.625" style="fill:#999;stroke:none"/>
<path class="g" d="M546.6,870.5 V879.8 A13.1,6.5 0 0 0 572.8,879.8 V870.5"/>
<path class="g" d="M541.8,884.3 Q541.8,881.3 546.6,878.8 M576.5,884.3 Q576.5,881.3 572.8,878.8"/>
<path class="g" d="M541.8,884.3 V911.2 M576.5,884.3 V911.2"/>
<path class="g" d="M541.8,902.2 A17.4,6.5 0 0 0 576.5,902.2"/>
<path class="g" d="M541.8,907.2 A17.4,6.5 0 0 0 576.5,907.2"/>
<path class="g" d="M541.8,909.7 A17.4,6.5 0 0 0 576.5,909.7"/>
<path class="g" d="M558.2,890.3 L559.7,885.8 L561.2,890.3 Z M559.7,890.3 V895.3"/>
<ellipse cx="559.7" cy="894.3" rx="1.8" ry="1.6" style="fill:#888;stroke:none"/>
<path class="g" d="M541.3,914.2 V968.5 A17.8,7.5 0 0 0 576.8,968.5 V914.2"/>
<path class="g" d="M541.3,955.5 A17.8,6.5 0 0 0 576.8,955.5"/>
<path class="gt" d="M541.3,958.5 A17.8,6.5 0 0 0 576.8,958.5"/>
<path class="g" d="M546.0,872.0 L522.6,884.0 Q521.6,885.0 521.6,887.0 V902.0 Q521.6,904.0 523.6,905.0 L543.8,912.0"/>
<path class="gt" d="M524.6,887.0 L547.0,876.0 M524.6,887.0 V902.0 L541.8,908.0"/>
<path class="g" d="M527.6,888.0 L529.6,898.0 M531.6,885.0 L533.6,897.0 M536.6,883.0 L537.6,894.0"/>
<ellipse class="g" cx="544.3" cy="905" rx="4.2" ry="4.4" style="stroke-width:1.6"/>
<ellipse class="g" cx="544.3" cy="905" rx="2" ry="2.2" style="stroke-width:1.4"/>
<path class="g" d="M526.7,828.4 Q525.3,827.6 526.7,826.8 L545.1,816.3 Q546.5,815.5 547.9,816.3 L555.3,820.5 Q556.7,821.3 555.3,822.1 L536.9,832.6 Q535.5,833.4 534.1,832.6Z"/>
<path class="g" d="M525.3,827.6 L525.3,844.1 L535.5,850.6 L556.7,838.5 L556.7,821.3"/>
<path class="g" d="M535.5,833.4 V850.6"/>
<path class="gt" d="M529.9,830.8 V849.1"/>
<path class="g" d="M530.0,829.8 L549.7,818.5"/>
<path class="g" d="M531.6,826.3 L529.0,823.7 L539.2,817.9 L541.8,820.5"/>
<path class="g" d="M531.6,826.3 L541.8,820.5"/>
<path class="g" d="M538.0,835.7 L549.5,829.2 L549.5,838.8 L538.0,845.4 Z"/>
<path class="gt" d="M538.9,836.6 L548.6,831.1 L548.6,837.9 L538.9,843.5 Z"/>
<path class="g" d="M551.6,827.3 L553.7,826.1 L553.7,833.0 L551.6,834.2 Z"/>
<path class="g" d="M533.4,848.7 V853.9 L535.5,854.4 L538.5,851.0 V845.8 M535.5,848.9 V854.4"/>
<path class="g" d="M552.0,834.3 L558.5,830.6 L558.5,837.6 L552.0,841.5"/>
<path class="g" d="M538.5,844.1 L549.1,838.0"/>
<path class="g" d="M546,848 C546.8,849.3 547.4,850.7 548.5,852 C550,853.7 552.1,855.8 554.4,857 C556.7,858.3 559.7,858.6 562.3,859.3 C564.9,859.9 567.6,860.4 570.2,860.9 C572.8,861.4 575.4,861.7 578,862.5 C580.7,863.3 583,864.9 586,865.8 C589.8,866.9 595.6,866.1 599,868 C602,869.7 604.4,873 605.7,875.8 C606.9,878.3 606.6,881.3 607,884"/>
<path class="g" d="M573.5,889 L578,886 L586,886.5 L588.5,889 L587.5,897 L583,899.5 L576,898.5 Z"/>
<ellipse cx="578" cy="892" rx="2.6" ry="3.4" style="fill:#777;stroke:none"/>
<ellipse cx="583.5" cy="891.5" rx="2.2" ry="3" style="fill:#888;stroke:none"/>
<path class="g" d="M588.5,887 L596,883.5 Q601,882 605,884 L609.5,889 V903 Q608,907 603,908.5 L596,908 L589.5,904 Z"/>
<ellipse cx="600.5" cy="889.5" rx="4.8" ry="4" style="fill:#777;stroke:none"/>
<ellipse cx="605.5" cy="903" rx="3" ry="3.4" style="fill:#888;stroke:none"/>
<path class="gt" d="M591,895 L597,893 V902 L591,903.5 Z"/>
<path class="g" d="M580,899.5 V930 M586.6,899.5 V930 M580,935 V958.5 M586.6,935 V958.5"/>
<path class="gt" d="M580,930 H586.6 M580,935 H586.6"/>
<path class="g" d="M580,907 H586.6 M580,910 H586.6"/>
<path class="g" d="M579,959 L581,957.5 H586 L588,959 V967 L586,969.5 H581 L579,967 Z"/>
<path class="gt" d="M580.5,962 H586.5 M583.5,959 V969"/>
<ellipse class="g" cx="676.4" cy="848.9" rx="15.2" ry="6.7"/>
<ellipse class="g" cx="676.4" cy="849.4" rx="5.016" ry="3.6850000000000005" style="stroke-width:1.6"/>
<path class="g" d="M671.4,849.4 v4 a5.0,3.7 0 0 0 10.0,0 v-4"/>
<ellipse cx="676.4" cy="853.4" rx="3.344" ry="1.675" style="fill:#999;stroke:none"/>
<path class="g" d="M661.2,848.9 V861.2 A15.2,6.7 0 0 0 691.6,861.2 V848.9"/>
<path class="g" d="M657.4,865.9 Q657.4,862.9 661.2,860.2 M695.4,865.9 Q695.4,862.9 691.6,860.2"/>
<path class="g" d="M657.4,865.9 V896.4 M695.4,865.9 V896.4"/>
<path class="g" d="M657.4,887.4 A19.0,6.7 0 0 0 695.4,887.4"/>
<path class="g" d="M657.4,892.4 A19.0,6.7 0 0 0 695.4,892.4"/>
<path class="g" d="M657.4,894.9 A19.0,6.7 0 0 0 695.4,894.9"/>
<path class="g" d="M674.9,871.9 L676.4,867.4 L677.9,871.9 Z M676.4,871.9 V876.9"/>
<ellipse cx="676.4" cy="875.9" rx="1.8" ry="1.6" style="fill:#888;stroke:none"/>
<path class="g" d="M658.4,899.4 V959.3 A18.5,7.7 0 0 0 695.4,959.3 V899.4"/>
<path class="g" d="M658.4,946.3 A18.5,6.7 0 0 0 695.4,946.3"/>
<path class="gt" d="M658.4,949.3 A18.5,6.7 0 0 0 695.4,949.3"/>
<path class="g" d="M660.0,853.0 L632.8,865.0 Q631.8,866.0 631.8,868.0 V882.6 Q631.8,884.6 633.8,885.6 L659.4,892.6"/>
<path class="gt" d="M634.8,868.0 L661.0,857.0 M634.8,868.0 V882.6 L657.4,888.6"/>
<path class="g" d="M637.8,869.0 L639.8,879.0 M641.8,866.0 L643.8,878.0 M646.8,864.0 L647.8,875.0"/>
<ellipse class="g" cx="659.9" cy="885.6" rx="4.2" ry="4.4" style="stroke-width:1.6"/>
<ellipse class="g" cx="659.9" cy="885.6" rx="2" ry="2.2" style="stroke-width:1.4"/>
<path class="g" d="M693.0,810.4 Q691.6,809.7 693.0,808.9 L714.5,795.7 Q715.9,794.9 717.3,795.6 L726.6,800.5 Q728.0,801.2 726.6,802.0 L705.1,815.2 Q703.7,816.0 702.3,815.3Z"/>
<path class="g" d="M691.6,809.7 L691.6,828.7 L703.7,835.8 L728.0,821.0 L728.0,801.2"/>
<path class="g" d="M703.7,816.0 V835.8"/>
<path class="gt" d="M697.0,813.1 V834.3"/>
<path class="g" d="M697.2,812.0 L719.8,798.3"/>
<path class="g" d="M698.9,808.0 L695.9,805.2 L707.5,798.1 L710.5,800.9"/>
<path class="g" d="M698.9,808.0 L710.5,800.9"/>
<path class="g" d="M706.6,818.6 L719.7,810.6 L719.7,821.7 L706.6,829.7 Z"/>
<path class="gt" d="M707.6,819.6 L718.8,812.8 L718.8,820.7 L707.6,827.5 Z"/>
<path class="g" d="M722.2,808.3 L724.6,806.8 L724.6,814.8 L722.2,816.2 Z"/>
<path class="g" d="M701.3,833.7 V839.7 L703.7,840.2 L707.1,836.1 V830.2 M703.7,833.8 V840.2"/>
<path class="g" d="M722.7,816.3 L729.8,812.1 L729.8,820.0 L722.7,824.7"/>
<path class="g" d="M707.1,828.2 L719.3,820.8"/>
<path class="g" d="M686,868 L693,865 L703,865.5 L709.5,869 L709.7,876 Q708,879.5 703,879.5 L694,879.3 L687,876 Z"/>
<ellipse cx="695" cy="872" rx="3.4" ry="4.2" style="fill:#777;stroke:none"/>
<path class="gt" d="M698,866 Q701,872 698.5,879 M701,866 Q704,872 701.5,879 M704,866.5 Q707,872 704.5,879"/>
<ellipse class="g" cx="706.5" cy="872.5" rx="2.4" ry="4" style="stroke-width:1.5"/>
<path class="g" d="M700,879 C701.3,879.7 702.9,880 704,881 C705.2,882 706.4,883.5 707,885 C707.6,886.5 707.5,888.3 707.8,890"/>
<path class="g" d="M701,888 V921 M707.8,888 V921 M701,925 V953.5 M707.8,925 V953.5"/>
<path class="g" d="M701,895 H707.8 M701,898 H707.8"/>
<path class="g" d="M700,954 L702,952.5 H707 L709,954 V964.5 L707,966.7 H702 L700,964.5 Z"/>
<path class="gt" d="M701.5,957.5 H708 M704.5,954 V966"/>
</svg>
</body></html>
